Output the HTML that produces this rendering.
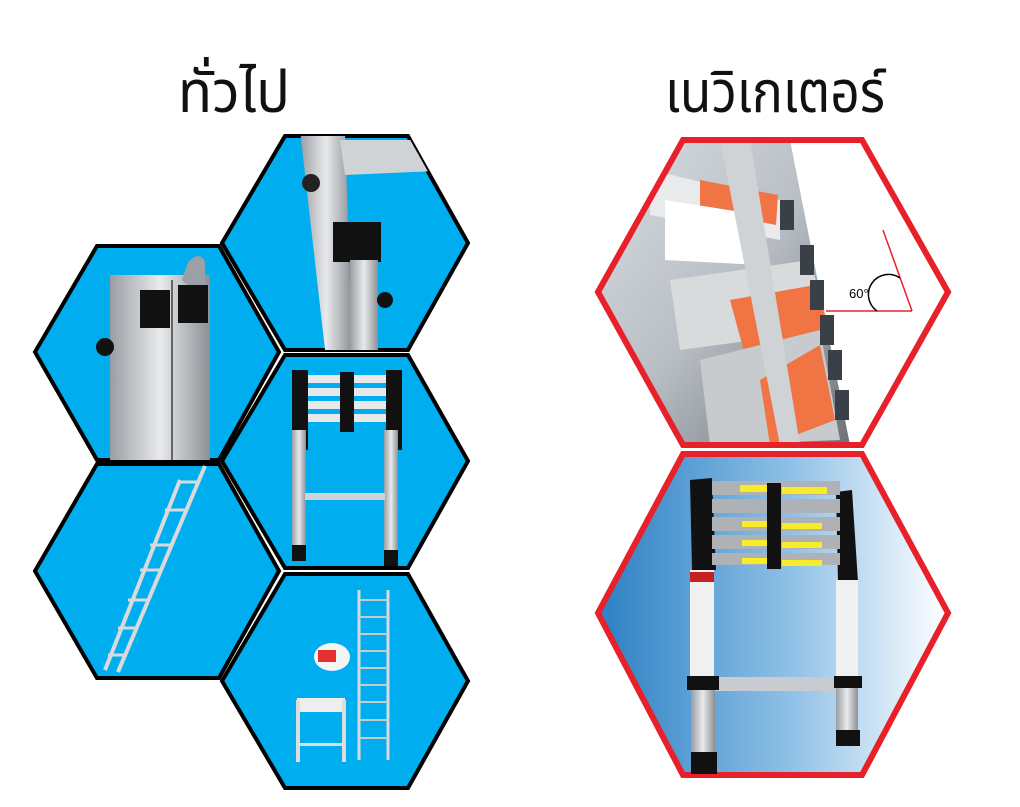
<!DOCTYPE html>
<html><head><meta charset="utf-8"><style>
html,body{margin:0;padding:0;background:#fff;width:1020px;height:807px;overflow:hidden}
svg{display:block}
text.t{font-family:"Liberation Sans","DejaVu Sans","Noto Sans Thai","Loma","Garuda",sans-serif;font-size:58px;fill:#111}
</style></head><body>
<svg width="1020" height="807" viewBox="0 0 1020 807" xmlns="http://www.w3.org/2000/svg">
<defs>
<linearGradient id="bg2" x1="0" x2="1" y1="0" y2="0">
<stop offset="0" stop-color="#2b80c4"/><stop offset="0.55" stop-color="#8fc0e6"/><stop offset="1" stop-color="#ffffff"/>
</linearGradient>
<linearGradient id="alu" x1="0" x2="1"><stop offset="0" stop-color="#9a9ea3"/><stop offset="0.5" stop-color="#e8eaec"/><stop offset="1" stop-color="#8c9095"/></linearGradient>
<linearGradient id="bg1" x1="0" x2="1" y1="0" y2="1">
<stop offset="0" stop-color="#d8dde2"/><stop offset="0.5" stop-color="#b8bec4"/><stop offset="1" stop-color="#6c7278"/>
</linearGradient>
<clipPath id="c1"><polygon points="598,292 683,140 862,140 948,292 862,445 683,445"/></clipPath>
<clipPath id="c2"><polygon points="598,613 683,454 862,454 948,613 862,775 683,775"/></clipPath>
<clipPath id="cA"><polygon points="35,352 97,246 219,246 279,352 219,460 97,460"/></clipPath>
<clipPath id="cB"><polygon points="222,243 285,136 408,136 468,243 408,350 285,350"/></clipPath>
<clipPath id="cC"><polygon points="222,461 285,355 408,355 468,461 408,568 285,568"/></clipPath>
<clipPath id="cD"><polygon points="35,571 97,464 219,464 279,571 219,678 97,678"/></clipPath>
<clipPath id="cE"><polygon points="222,681 285,574 408,574 468,681 408,788 285,788"/></clipPath>
</defs>

<text class="t" x="178" y="112" textLength="112" lengthAdjust="spacingAndGlyphs">ทั่วไป</text>
<text class="t" x="665" y="112" textLength="220" lengthAdjust="spacingAndGlyphs">เนวิเกเตอร์</text>

<!-- Left hexes -->
<g stroke="#000" stroke-width="4" fill="#00aeef" stroke-linejoin="miter">
<polygon points="35,352 97,246 219,246 279,352 219,460 97,460"/>
<polygon points="222,243 285,136 408,136 468,243 408,350 285,350"/>
<polygon points="222,461 285,355 408,355 468,461 408,568 285,568"/>
<polygon points="35,571 97,464 219,464 279,571 219,678 97,678"/>
<polygon points="222,681 285,574 408,574 468,681 408,788 285,788"/>
</g>

<!-- A content -->
<g clip-path="url(#cA)">
<rect x="110" y="275" width="100" height="190" fill="url(#alu)"/>
<line x1="172" y1="280" x2="172" y2="460" stroke="#666" stroke-width="2"/>
<path d="M182,280 L188,262 Q200,250 205,262 L205,300 Z" fill="#9aa0a5"/>
<rect x="140" y="290" width="30" height="38" fill="#111"/>
<rect x="178" y="285" width="30" height="38" fill="#111"/>
<circle cx="105" cy="347" r="9" fill="#111"/>
</g>
<!-- B content -->
<g clip-path="url(#cB)">
<polygon points="300,130 345,130 352,350 325,350" fill="url(#alu)"/>
<polygon points="340,140 460,140 460,170 345,175" fill="#cfd3d6"/>
<circle cx="311" cy="183" r="9" fill="#222"/>
<rect x="333" y="222" width="48" height="40" fill="#111"/>
<rect x="350" y="260" width="28" height="90" fill="url(#alu)"/>
<circle cx="385" cy="300" r="8" fill="#111"/>
</g>
<!-- C content -->
<g clip-path="url(#cC)">
<rect x="292" y="370" width="16" height="80" fill="#111"/>
<rect x="386" y="370" width="16" height="80" fill="#111"/>
<g fill="#e8e8e8"><rect x="308" y="375" width="78" height="8"/><rect x="308" y="388" width="78" height="8"/><rect x="308" y="401" width="78" height="8"/><rect x="308" y="414" width="78" height="8"/></g>
<rect x="340" y="372" width="14" height="60" fill="#111"/>
<rect x="292" y="430" width="14" height="130" fill="url(#alu)"/>
<rect x="384" y="430" width="14" height="135" fill="url(#alu)"/>
<rect x="305" y="493" width="80" height="7" fill="#cfd3d6"/>
<rect x="292" y="545" width="14" height="16" fill="#111"/>
<rect x="384" y="550" width="14" height="16" fill="#111"/>
</g>
<!-- D content -->
<g clip-path="url(#cD)" stroke="#d8dadc" stroke-width="4">
<line x1="105" y1="670" x2="180" y2="480"/>
<line x1="118" y1="672" x2="205" y2="466"/>
<g stroke-width="3"><line x1="108" y1="655" x2="125" y2="655"/><line x1="118" y1="628" x2="135" y2="628"/><line x1="128" y1="600" x2="148" y2="600"/><line x1="140" y1="570" x2="160" y2="570"/><line x1="150" y1="545" x2="170" y2="545"/><line x1="165" y1="510" x2="185" y2="510"/><line x1="178" y1="482" x2="198" y2="482"/></g>
</g>
<!-- E content -->
<g clip-path="url(#cE)">
<g stroke="#d8dadc" stroke-width="3"><line x1="359" y1="590" x2="359" y2="760"/><line x1="388" y1="590" x2="388" y2="760"/></g>
<g stroke="#c8cacc" stroke-width="2"><line x1="359" y1="600" x2="388" y2="600"/><line x1="359" y1="617" x2="388" y2="617"/><line x1="359" y1="634" x2="388" y2="634"/><line x1="359" y1="651" x2="388" y2="651"/><line x1="359" y1="668" x2="388" y2="668"/><line x1="359" y1="685" x2="388" y2="685"/><line x1="359" y1="702" x2="388" y2="702"/><line x1="359" y1="720" x2="388" y2="720"/><line x1="359" y1="738" x2="388" y2="738"/></g>
<ellipse cx="332" cy="657" rx="18" ry="14" fill="#f4f4f4"/>
<rect x="318" y="650" width="18" height="12" fill="#e53030"/>
<rect x="297" y="698" width="48" height="14" fill="#eee"/>
<rect x="296" y="700" width="4" height="62" fill="#ddd"/>
<rect x="342" y="700" width="4" height="62" fill="#ddd"/>
<rect x="298" y="743" width="46" height="3" fill="#ddd"/>
</g>

<!-- Right hex 1 -->
<g clip-path="url(#c1)">
<rect x="598" y="140" width="350" height="305" fill="#fff"/>
<polygon points="598,140 790,140 850,445 598,445" fill="url(#bg1)"/>
<polygon points="650,170 780,200 780,240 650,215" fill="#e9eaec"/>
<polygon points="700,180 778,195 776,225 700,210" fill="#f07444"/>
<polygon points="665,200 760,215 760,265 665,260" fill="#fff"/>
<polygon points="670,280 810,260 830,330 680,350" fill="#d8dadc"/>
<polygon points="730,300 815,285 830,330 745,355" fill="#f07444"/>
<polygon points="700,360 820,330 840,440 710,445" fill="#c8cbce"/>
<polygon points="760,380 820,345 835,420 770,445" fill="#f07444"/>
<polygon points="720,140 750,140 800,445 780,445" fill="#cfd3d6"/>
<g fill="#3a4048"><rect x="780" y="200" width="14" height="30"/><rect x="800" y="245" width="14" height="30"/><rect x="810" y="280" width="14" height="30"/><rect x="820" y="315" width="14" height="30"/><rect x="828" y="350" width="14" height="30"/><rect x="835" y="390" width="14" height="30"/></g>
<line x1="826" y1="311" x2="912" y2="311" stroke="#e8202a" stroke-width="1.5"/>
<line x1="883" y1="230" x2="912" y2="311" stroke="#e8202a" stroke-width="1.5"/>
<path d="M877,311 A18,18 0 0 1 900,278" fill="none" stroke="#000" stroke-width="1.5"/>
<text x="849" y="298" font-family="Liberation Sans,sans-serif" font-size="13" fill="#000">60°</text>
</g>
<polygon points="598,292 683,140 862,140 948,292 862,445 683,445" fill="none" stroke="#e8202a" stroke-width="6"/>

<!-- Right hex 2 -->
<g clip-path="url(#c2)">
<rect x="598" y="454" width="350" height="321" fill="url(#bg2)"/>
</g>
<polygon points="598,613 683,454 862,454 948,613 862,775 683,775" fill="none" stroke="#e8202a" stroke-width="6"/>
<g>
<polygon points="690,480 712,478 716,570 692,570" fill="#111"/>
<polygon points="836,492 852,490 858,582 838,582" fill="#111"/>
<g fill="#aeb2b6"><rect x="712" y="481" width="128" height="14"/><rect x="712" y="499" width="128" height="14"/><rect x="712" y="517" width="128" height="14"/><rect x="712" y="535" width="128" height="14"/><rect x="712" y="553" width="128" height="12"/></g>
<g fill="#f7ec2a"><rect x="740" y="485" width="30" height="7"/><rect x="782" y="487" width="45" height="7"/><rect x="742" y="521" width="28" height="6"/><rect x="782" y="523" width="40" height="6"/><rect x="742" y="540" width="28" height="6"/><rect x="782" y="542" width="40" height="6"/><rect x="742" y="558" width="28" height="6"/><rect x="782" y="560" width="40" height="6"/></g>
<rect x="767" y="483" width="14" height="86" fill="#111"/>
<rect x="690" y="570" width="24" height="115" fill="#f0f0f0"/>
<rect x="690" y="572" width="24" height="10" fill="#c82020"/>
<rect x="836" y="580" width="22" height="105" fill="#f0f0f0"/>
<rect x="712" y="677" width="124" height="14" fill="#c8ccd0"/>
<rect x="687" y="676" width="32" height="14" fill="#111"/>
<rect x="834" y="676" width="28" height="12" fill="#111"/>
<rect x="691" y="690" width="24" height="65" fill="url(#alu)"/>
<rect x="836" y="688" width="22" height="45" fill="url(#alu)"/>
<rect x="691" y="752" width="26" height="22" fill="#111"/>
<rect x="836" y="730" width="24" height="16" fill="#111"/>
</g>
</svg>
</body></html>
